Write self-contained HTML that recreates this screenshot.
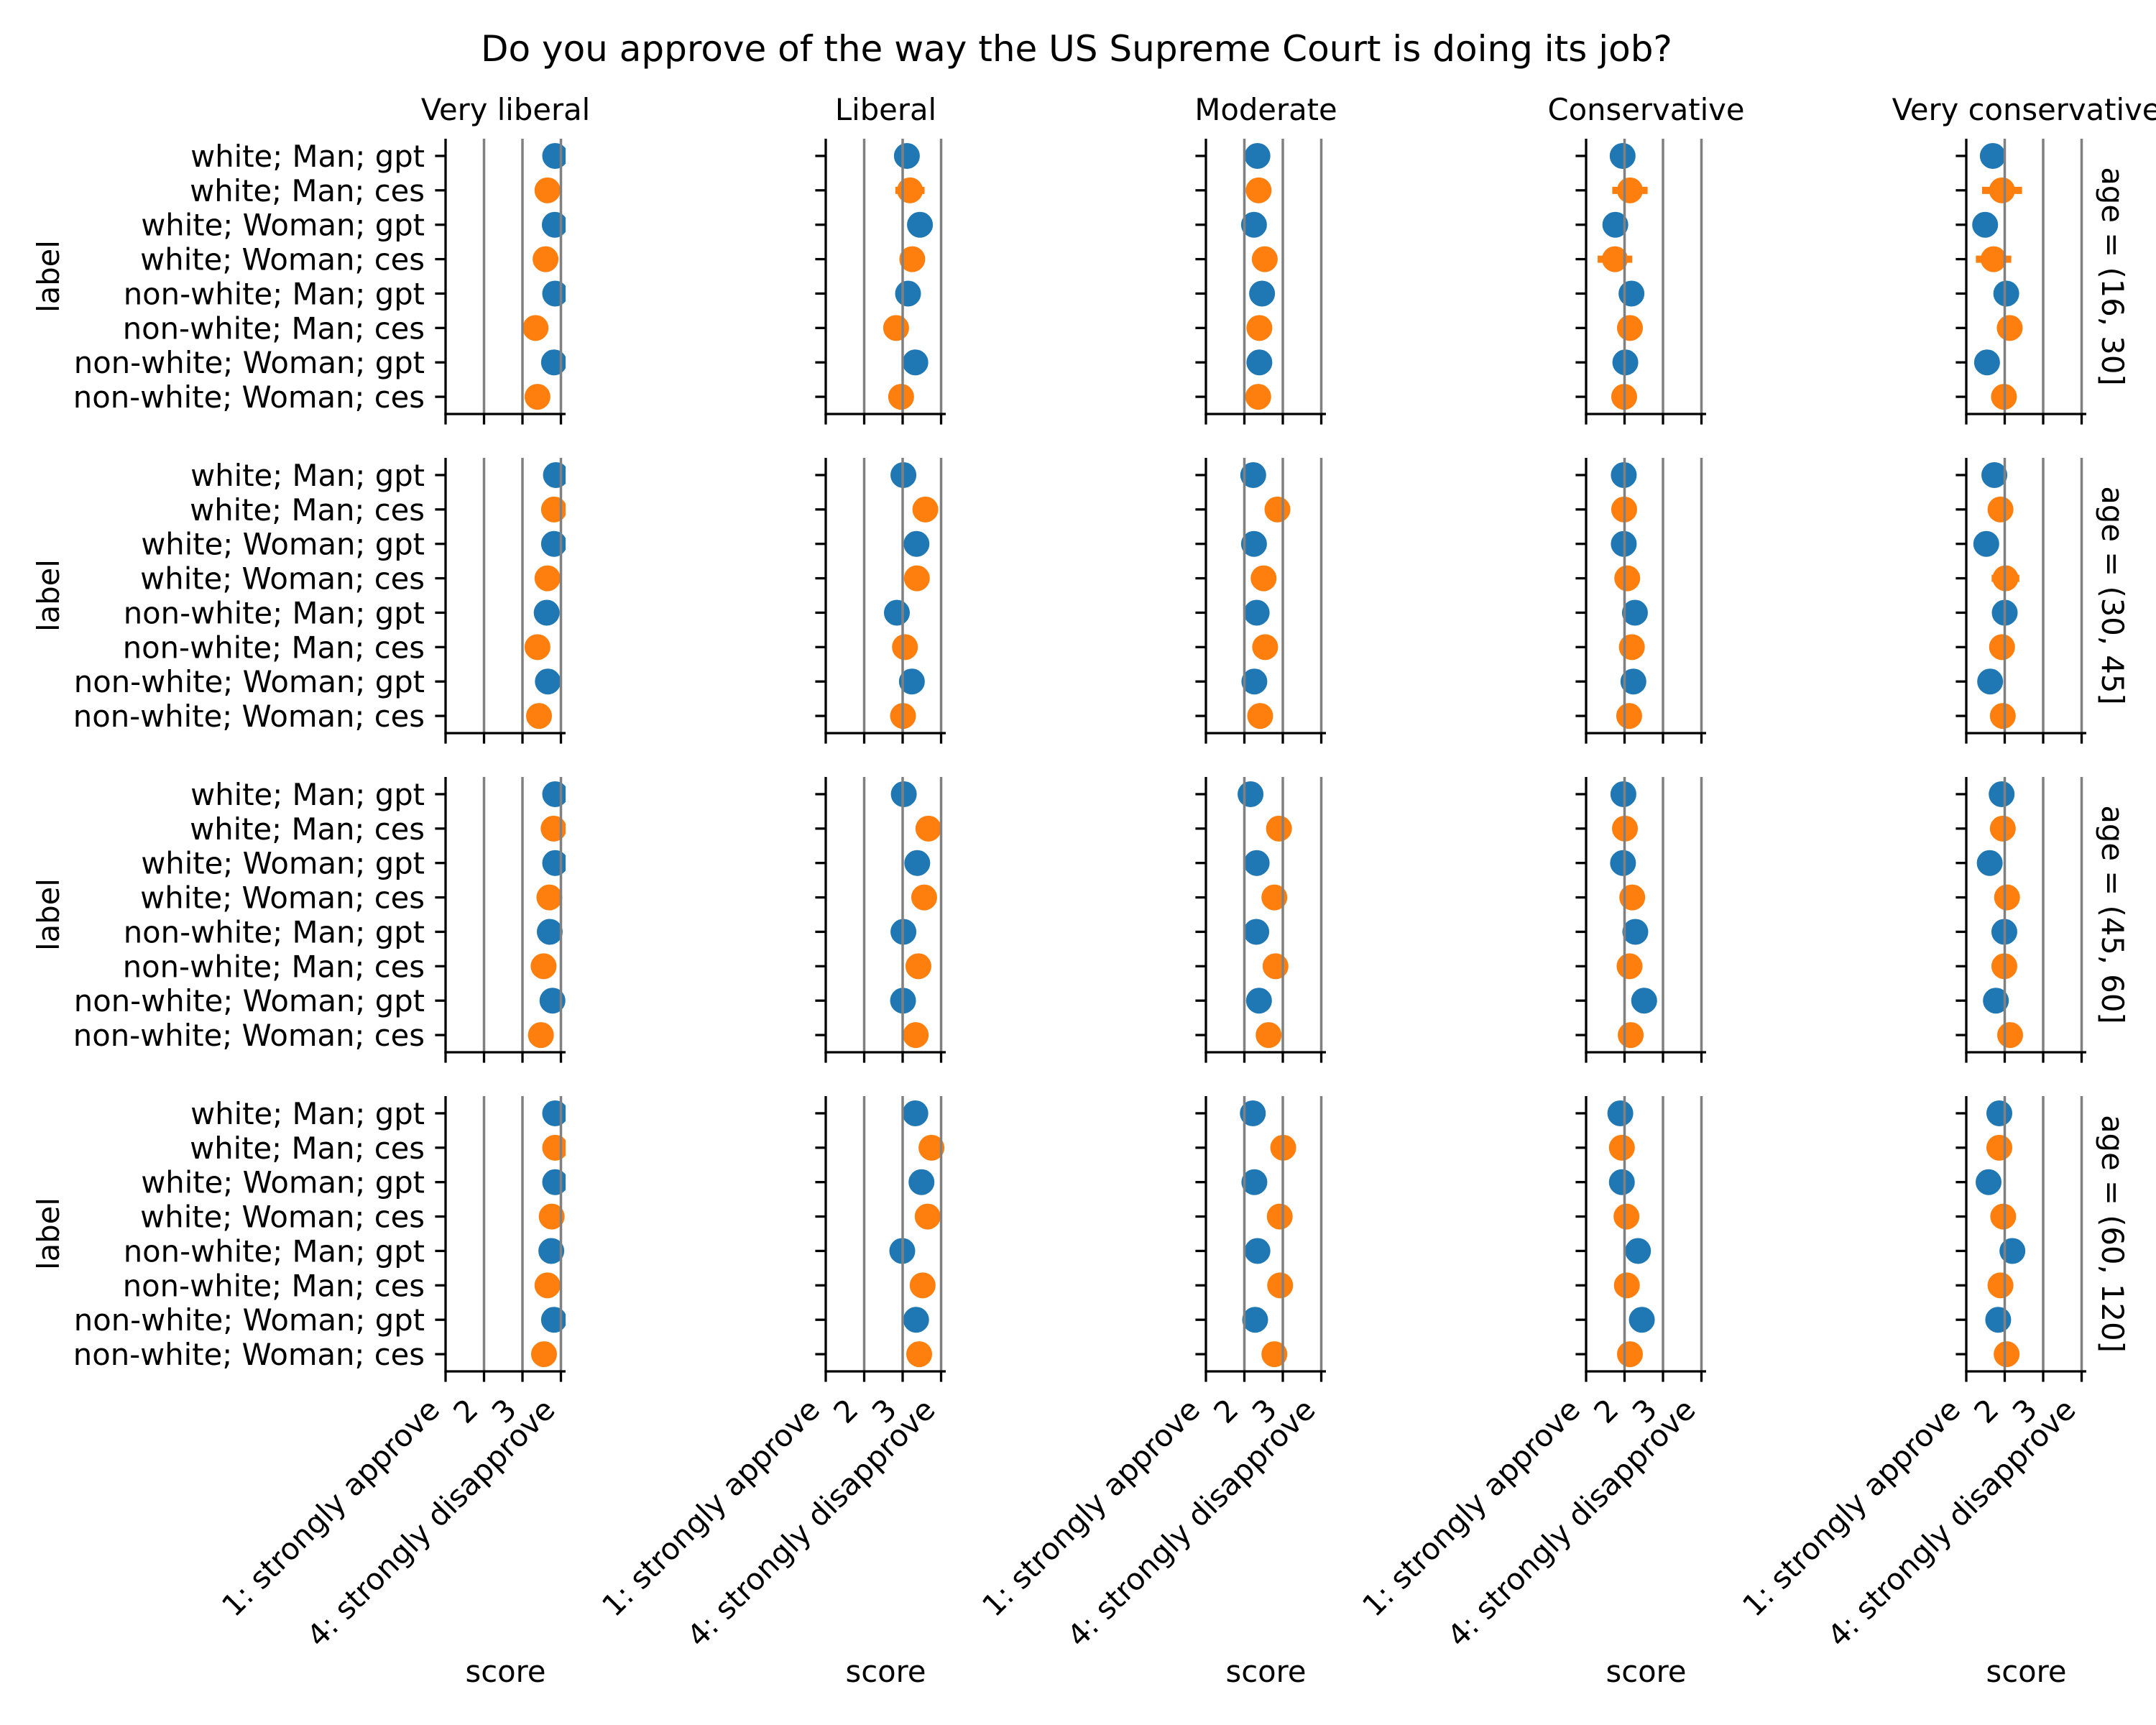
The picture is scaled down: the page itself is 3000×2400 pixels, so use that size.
<!DOCTYPE html>
<html><head><meta charset="utf-8"><style>
html,body{margin:0;padding:0;background:#fff;}
svg{display:block;font-family:"DejaVu Sans","Liberation Sans",sans-serif;}
</style></head><body>
<svg id="fig" width="3000" height="2400" viewBox="0 0 3000 2400" xmlns="http://www.w3.org/2000/svg">
<rect width="3000" height="2400" fill="#fff"/>
<text x="1498" y="85" font-size="50" text-anchor="middle">Do you approve of the way the US Supreme Court is doing its job?</text>
<g id="panels"></g>
</svg>
<script>
const columns = ["Very liberal","Liberal","Moderate","Conservative","Very conservative"];
const rowsLabels = ["age = (16, 30]","age = (30, 45]","age = (45, 60]","age = (60, 120]"];
const categories = ["white; Man; gpt","white; Man; ces","white; Woman; gpt","white; Woman; ces","non-white; Man; gpt","non-white; Man; ces","non-white; Woman; gpt","non-white; Woman; ces"];
const tickValues = [1,2,3,4];
const tickLabels = ["1: strongly approve","2","3","4: strongly disapprove"];
const scoresAge1 = [
  [3.85,3.65,3.84,3.60,3.85,3.34,3.82,3.39],
  [3.11,3.19,3.45,3.25,3.14,2.83,3.33,2.96],
  [2.34,2.37,2.25,2.53,2.46,2.39,2.39,2.36],
  [1.95,2.14,1.76,1.75,2.18,2.14,2.02,1.99],
  [1.69,1.93,1.49,1.71,2.04,2.13,1.54,1.98]
];
const scoresAge2 = [
  [3.87,3.82,3.82,3.65,3.63,3.39,3.66,3.43],
  [3.02,3.59,3.36,3.37,2.85,3.06,3.24,3.01],
  [2.23,2.86,2.25,2.50,2.32,2.54,2.26,2.41],
  [1.98,1.99,1.98,2.07,2.27,2.19,2.23,2.12],
  [1.73,1.89,1.52,2.02,2.00,1.93,1.62,1.95]
];
const scoresAge3 = [
  [3.85,3.81,3.85,3.70,3.71,3.55,3.78,3.48],
  [3.03,3.67,3.38,3.56,3.02,3.41,3.01,3.34],
  [2.16,2.90,2.32,2.78,2.31,2.81,2.38,2.63],
  [1.97,2.01,1.96,2.20,2.28,2.13,2.51,2.16],
  [1.92,1.95,1.61,2.06,1.99,1.99,1.77,2.14]
];
const scoresAge4 = [
  [3.85,3.85,3.85,3.76,3.75,3.65,3.82,3.56],
  [3.33,3.75,3.49,3.65,2.99,3.52,3.35,3.43],
  [2.22,3.01,2.26,2.92,2.34,2.93,2.28,2.78],
  [1.89,1.93,1.93,2.05,2.35,2.06,2.45,2.14],
  [1.86,1.86,1.58,1.96,2.20,1.89,1.83,2.05]
];
const errAge1 = [
  [0,0,0,0,0,0,0,0],
  [0,0.38,0,0,0,0,0,0],
  [0,0,0,0,0,0,0,0],
  [0,0.46,0,0.45,0,0,0,0],
  [0,0.52,0,0.46,0,0,0,0]
];
const errAge2VC = [0,0,0,0.36,0,0,0,0];
const allScores = [scoresAge1,scoresAge2,scoresAge3,scoresAge4];

const NS="http://www.w3.org/2000/svg";
const g=document.getElementById('panels');
function el(tag,attrs,parent){const e=document.createElementNS(NS,tag);for(const k in attrs)e.setAttribute(k,attrs[k]);(parent||g).appendChild(e);return e;}

const colLeft0=620, colPitch=529, axW=167, unit=53.5;
const rowTop0=193, rowPitch=444, rowH=383;
const BLUE="#1f77b4", ORANGE="#ff7f0e";
function xScale(c,v){return colLeft0+c*colPitch+(v-1)*unit;}
function yScale(r,i){return rowTop0+r*rowPitch+(i+0.5)*rowH/8;}

const defs=el('defs',{});
for(let r=0;r<4;r++){
  const top=rowTop0+r*rowPitch, bot=top+rowH;
  for(let c=0;c<5;c++){
    const left=colLeft0+c*colPitch, right=left+axW;
    const cp=el('clipPath',{id:'cp'+r+'_'+c},defs);
    el('rect',{x:left,y:top,width:axW,height:rowH},cp);
    const pg=el('g',{});
    
    
    const mk=el('g',{'clip-path':'url(#cp'+r+'_'+c+')'},pg);
    const vals=allScores[r][c];
    for(let i=0;i<8;i++){
      const isCes=i%2===1;
      const col=isCes?ORANGE:BLUE;
      const cx=xScale(c,vals[i]), cy=yScale(r,i);
      let e=0;
      if(r===0) e=errAge1[c][i];
      if(r===1&&c===4) e=errAge2VC[i];
      if(e>0){
        const l=el('line',{x1:xScale(c,vals[i]-e),x2:xScale(c,vals[i]+e),y1:cy,y2:cy,stroke:col,'stroke-width':10},mk);
        
        
      }
      const d=el('circle',{cx:cx,cy:cy,r:18,fill:col},mk);
      
      
    }
    for(let v=2;v<=4;v++){
      const x=xScale(c,v);
      const gl=el('line',{x1:x,x2:x,y1:top,y2:bot,stroke:'#808080','stroke-width':3.5},pg);
      
      
    }
    el('line',{x1:left,x2:left,y1:top,y2:bot+1.6,stroke:'#000','stroke-width':3.3},pg);
    el('line',{x1:left-1.6,x2:right,y1:bot,y2:bot,stroke:'#000','stroke-width':3.3},pg);
    for(let i=0;i<8;i++){
      const y=yScale(r,i);
      el('line',{x1:left-14.6,x2:left,y1:y,y2:y,stroke:'#000','stroke-width':3.3},pg);
      if(c===0){
        const t=el('text',{x:left-29,y:y+15,'font-size':41.7,'text-anchor':'end'},pg);
        t.textContent=categories[i];
        
        
      }
    }
    for(let k=0;k<tickValues.length;k++){
      const x=xScale(c,tickValues[k]);
      el('line',{x1:x,x2:x,y1:bot,y2:bot+14.6,stroke:'#000','stroke-width':3.3},pg);
      if(r===3){
        const px=x-6, py=bot+56;
        const t=el('text',{x:px,y:py,'font-size':41.7,'text-anchor':'end',transform:'rotate(-45 '+px+' '+py+')'},pg);
        t.textContent=tickLabels[k];
        
        
      }
    }
    if(r===0){
      const t=el('text',{x:left+axW/2,y:167,'font-size':41.7,'text-anchor':'middle'},pg);
      t.textContent=columns[c];
      
      
    }
    if(r===3){
      const t=el('text',{x:left+axW/2,y:2340,'font-size':41.7,'text-anchor':'middle'},pg);
      t.textContent='score';
      
      
    }
  }
  const mid=top+rowH/2;
  const yl=el('text',{x:82,y:mid,'font-size':41.7,'text-anchor':'middle',transform:'rotate(-90 82 '+mid+')'});
  yl.textContent='label';
  
  
  const rl=el('text',{x:2925,y:mid,'font-size':41.7,'text-anchor':'middle',transform:'rotate(90 2925 '+mid+')'});
  rl.textContent=rowsLabels[r];
  
  
}
</script>
</body></html>
